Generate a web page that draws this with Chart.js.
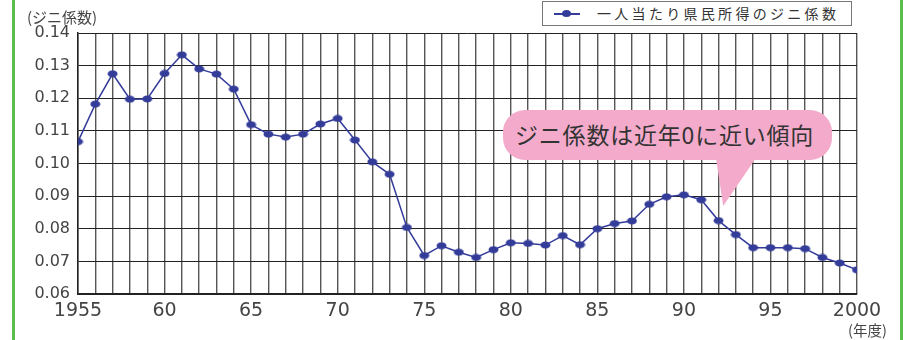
<!DOCTYPE html>
<html>
<head>
<meta charset="utf-8">
<script src="https://cdn.jsdelivr.net/npm/chart.js@4.4.1/dist/chart.umd.min.js"></script>
<style>
  body { margin: 0; background: #fff; }
  #wrap { position: relative; width: 920px; height: 340px; overflow: hidden; font-family: "Noto Sans CJK JP", sans-serif; }
  #giniChart { position: absolute; left: 0; top: 0; }
  .frame { position: absolute; top: 0; width: 3px; height: 340px; background: #5bbd4e; }
  #yTitle { position: absolute; left: 27px; top: 6px; font-size: 15px; color: #444; }
  #xTitle { position: absolute; left: 848px; top: 319px; font-size: 14.5px; color: #444; }
  #legend { position: absolute; left: 542px; top: 1px; width: 310px; height: 25px; border: 1px solid #777; background: #fff; box-sizing: border-box; }
  #legend .mark { position: absolute; left: 11px; top: 11px; width: 26px; height: 1.5px; background: #343c9a; }
  #legend .mark::after { content: ''; position: absolute; left: 8px; top: -3px; width: 9px; height: 7px; border-radius: 50%; background: #343c9a; }
  #legend .txt { position: absolute; left: 54px; top: 1px; font-size: 14px; letter-spacing: 3.3px; color: #333; }
  #callout { position: absolute; left: 503px; top: 110px; width: 329px; height: 50px; background: #f4abcb; border-radius: 22px; }
  #callout .txt { position: absolute; left: 12px; top: 7px; font-size: 23px; letter-spacing: 0.8px; color: #333; white-space: nowrap; }
  #tail { position: absolute; left: 716px; top: 158px; width: 40px; height: 48px; background: #f4abcb; clip-path: polygon(0 0, 100% 0, 18% 100%); }
</style>
</head>
<body>
<div id="wrap">
  <canvas id="giniChart" width="920" height="340"></canvas>
  <div class="frame" style="left:12px"></div>
  <div class="frame" style="left:900px"></div>
  <div id="yTitle">(ジニ係数)</div>
  <div id="xTitle">(年度)</div>
  <div id="legend"><div class="mark"></div><div class="txt">一人当たり県民所得のジニ係数</div></div>
  <div id="tail"></div>
  <div id="callout"><div class="txt">ジニ係数は近年0に近い傾向</div></div>
</div>
<script>
// fiscal years and Gini coefficient of per-capita prefectural income
var years = [];
for (var y = 1955; y <= 2000; y++) years.push(y);

var gini = [
    0.1067, 0.1182, 0.1275, 0.1197, 0.1198, 0.1276, 0.1333, 0.1290, 0.1274, 0.1228,
    0.1119, 0.1090, 0.1081, 0.1090, 0.1121, 0.1138, 0.1072, 0.1005, 0.0967, 0.0804,
    0.0718, 0.0748, 0.0728, 0.0712, 0.0736, 0.0757, 0.0755, 0.0750, 0.0779, 0.0751,
    0.0800, 0.0816, 0.0824, 0.0875, 0.0898, 0.0904, 0.0889, 0.0825, 0.0782, 0.0742,
    0.0742, 0.0742, 0.0739, 0.0712, 0.0695, 0.0674
];

var yTicks = [0.06, 0.07, 0.08, 0.09, 0.10, 0.11, 0.12, 0.13, 0.14];
var seriesLabel = '一人当たり県民所得のジニ係数';

// flat oval marker like the original
var dot = document.createElement('canvas');
dot.width = 11; dot.height = 8;
var dctx = dot.getContext('2d');
dctx.fillStyle = '#343c9a';
dctx.beginPath();
dctx.ellipse(5.5, 4, 5, 3.5, 0, 0, Math.PI * 2);
dctx.fill();

var ctx = document.getElementById('giniChart').getContext('2d');

var giniChart = new Chart(ctx, {
    type: 'line',
    data: {
        datasets: [{
            label: seriesLabel,
            data: years.map(function (yr, i) { return { x: yr, y: gini[i] }; }),
            borderColor: '#343c9a',
            borderWidth: 1.5,
            pointStyle: dot,
            pointRadius: 4,
            tension: 0
        }]
    },
    options: {
        responsive: false,
        animation: false,
        layout: { padding: { left: 0, right: 63, top: 33, bottom: 0 } },
        scales: {
            x: {
                type: 'linear',
                min: 1955,
                max: 2000,
                afterFit: function (s) { s.height = 46; },
                ticks: {
                    stepSize: 1,
                    autoSkip: false,
                    maxRotation: 0,
                    padding: 6,
                    color: '#444',
                    font: { family: '"DejaVu Sans", sans-serif', size: 19 },
                    callback: function (v) {
                        if (v % 5 !== 0) return '';
                        if (v === 1955 || v === 2000) return String(v);
                        return String(v).slice(2);
                    }
                },
                grid: { color: '#555', lineWidth: 1.4, drawTicks: false },
                border: { color: '#222', width: 1.5 }
            },
            y: {
                min: 0.06,
                max: 0.14,
                afterFit: function (s) { s.width = 78; },
                afterBuildTicks: function (s) {
                    s.ticks = yTicks.map(function (v) { return { value: v }; });
                },
                ticks: {
                    padding: 8,
                    color: '#444',
                    font: { family: '"DejaVu Sans", sans-serif', size: 16 },
                    callback: function (v) { return v.toFixed(2); }
                },
                grid: { color: '#222', lineWidth: 1, drawTicks: false },
                border: { color: '#222', width: 1.5 }
            }
        },
        plugins: {
            legend: { display: false },
            title: { display: false },
            tooltip: { enabled: false }
        }
    }
});
</script>
</body>
</html>
